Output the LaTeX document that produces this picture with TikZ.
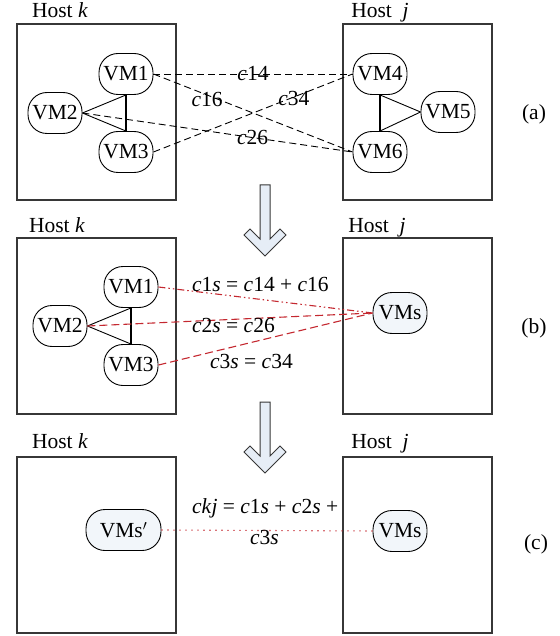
\documentclass[tikz,border=0pt]{standalone}
\usepackage{fontspec}
\setmainfont{Liberation Serif}
\definecolor{boxgray}{RGB}{55,55,55}
\definecolor{linkred}{RGB}{196,40,48}
\definecolor{vmfill}{RGB}{242,246,250}
\definecolor{arrowfill}{RGB}{230,237,246}
\newcommand{\mi}[1]{\textit{#1}}
\begin{document}
\begin{tikzpicture}[x=1pt,y=-1pt,
  every node/.style={font=\fontsize{21.5}{25}\selectfont},
  hostk/.style={draw=boxgray,line width=1.1pt,minimum width=159pt,minimum height=176pt,inner sep=0pt},
  hostj/.style={draw=boxgray,line width=1.1pt,minimum width=149pt,minimum height=176pt,inner sep=0pt},
  vm/.style={draw=black,line width=0.9pt,rounded corners=19pt,minimum width=54pt,minimum height=41pt,inner sep=0pt},
  vms/.style={vm,fill=vmfill},
  vmsp/.style={vm,fill=vmfill,minimum width=75pt},
  tri/.style={line width=0.9pt},
  trib/.style={line width=1.5pt},
  dashlink/.style={line width=0.9pt,dash pattern=on 7pt off 4pt},
  reddash/.style={line width=1.1pt,draw=linkred,dash pattern=on 8pt off 4pt},
  reddashdot/.style={line width=1.1pt,draw=linkred,dash pattern=on 7pt off 3pt on 1.5pt off 3pt on 1.5pt off 3pt},
  reddot/.style={line width=1.1pt,draw=linkred,dash pattern=on 1.2pt off 4.8pt},
  bigarrow/.style={draw=boxgray,line width=1pt,fill=arrowfill,line join=miter},
  hostlabel/.style={anchor=base},
  panel/.style={anchor=center}
]
\useasboundingbox (0,0) rectangle (559,636);

% ---------------- panel (a) ----------------
\node[hostk] (hka) at (96.5,112) {};
\node[hostj] (hja) at (417.5,112) {};
\node[hostlabel] (lhka) at (60,18) {Host \mi{k}};
\node[hostlabel] (lhja) at (380,18) {Host \ \mi{j}};

\node[vm] (a1) at (126,74) {VM1};
\node[vm] (a2) at (55,113) {VM2};
\node[vm] (a3) at (126,152) {VM3};
\node[vm] (a4) at (380,74) {VM4};
\node[vm] (a5) at (448,112) {VM5};
\node[vm] (a6) at (380,152) {VM6};

\draw[tri] (a2.east) -- (a1.south);
\draw[tri] (a2.east) -- (a3.north);
\draw[trib] (a1.south) -- (a3.north);
\draw[tri] (a5.west) -- (a4.south);
\draw[tri] (a5.west) -- (a6.north);
\draw[trib] (a4.south) -- (a6.north);

\draw[dashlink] (a1.east) -- node[pos=0.5] {\mi{c}14} (a4.west);
\draw[dashlink] (a1.east) -- node[pos=0.27,yshift=-4pt] {\mi{c}16} (a6.west);
\draw[dashlink] (a3.east) -- node[pos=0.705,yshift=-1pt] {\mi{c}34} (a4.west);
\draw[dashlink] (a2.east) -- node[pos=0.63] {\mi{c}26} (a6.west);

\node[panel] (pa) at (534,114) {(a)};

% arrow 1
\draw[bigarrow] (260,185) -- (270,185) -- (270,239) -- (280,229) -- (286,235)
  -- (265,256) -- (244,235) -- (250,229) -- (260,239) -- cycle;

% ---------------- panel (b) ----------------
\node[hostk] (hkb) at (96.5,326) {};
\node[hostj] (hjb) at (417.5,326) {};
\node[hostlabel] (lhkb) at (57,232) {Host \mi{k}};
\node[hostlabel] (lhjb) at (377,232) {Host \ \mi{j}};

\node[vm] (b1) at (131,287) {VM1};
\node[vm] (b2) at (60,326) {VM2};
\node[vm] (b3) at (131,365) {VM3};
\node[vms] (bs) at (400,313) {VMs};

\draw[tri] (b2.east) -- (b1.south);
\draw[tri] (b2.east) -- (b3.north);
\draw[trib] (b1.south) -- (b3.north);

\draw[reddashdot] (b1.east) -- (bs.west);
\draw[reddash] (b2.east) -- (bs.west);
\draw[reddash] (b3.east) -- (bs.west);

\node[anchor=base west,inner sep=0pt] (l1s) at (192,291) {\mi{c}1\mi{s} = \mi{c}14 + \mi{c}16};
\node[anchor=base west,inner sep=0pt] (l2s) at (192,332) {\mi{c}2\mi{s} = \mi{c}26};
\node[anchor=base west,inner sep=0pt] (l3s) at (210,368) {\mi{c}3\mi{s} = \mi{c}34};

\node[panel] (pb) at (534,328) {(b)};

% arrow 2
\draw[bigarrow] (260,402) -- (270,402) -- (270,456) -- (280,446) -- (286,452)
  -- (265,473) -- (244,452) -- (250,446) -- (260,456) -- cycle;

% ---------------- panel (c) ----------------
\node[hostk] (hkc) at (96.5,545) {};
\node[hostj] (hjc) at (417.5,545) {};
\node[hostlabel] (lhkc) at (60,448) {Host \mi{k}};
\node[hostlabel] (lhjc) at (380,448) {Host \ \mi{j}};

\node[vmsp] (cp) at (123.5,530) {VMs$'$};
\node[vms] (cs) at (400,531) {VMs};

\draw[reddot] (cp.east) -- (cs.west);

\node[anchor=base west,inner sep=0pt] (lkj) at (192,513) {\mi{c}\mi{k}\mi{j} = \mi{c}1\mi{s} + \mi{c}2\mi{s} +};
\node[anchor=base west,inner sep=0pt] (lkj2) at (250,544) {\mi{c}3\mi{s}};

\node[panel] (pc) at (536,544) {(c)};
\end{tikzpicture}
\end{document}
